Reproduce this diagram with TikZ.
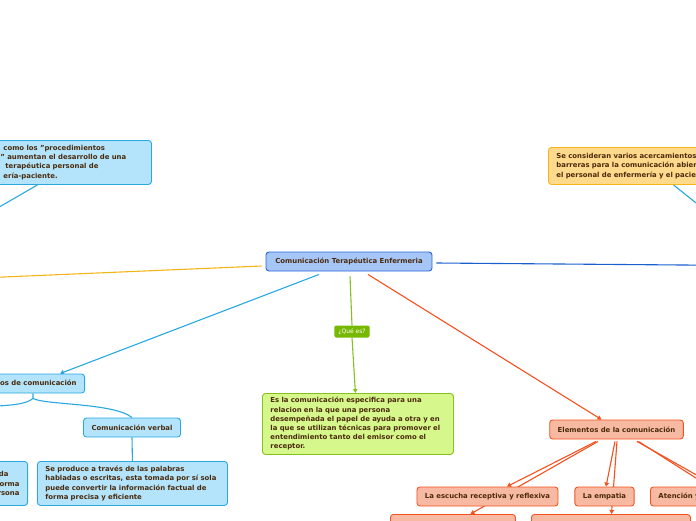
\documentclass[tikz,border=0pt]{standalone}
\usepackage{fontspec}
\setmainfont{DejaVu Sans}
\usetikzlibrary{arrows.meta}
\pgfdeclarelayer{bg}
\pgfsetlayers{bg,main}
\definecolor{txt}{HTML}{4A2A0C}
\definecolor{cyanF}{HTML}{B3E4FB}
\definecolor{cyanD}{HTML}{29A8E0}
\definecolor{blueF}{HTML}{A6C6F7}
\definecolor{blueD}{HTML}{2B63D6}
\definecolor{yelF}{HTML}{FFD98C}
\definecolor{yelD}{HTML}{F5B51A}
\definecolor{grnF}{HTML}{D6F78C}
\definecolor{grnD}{HTML}{84C01E}
\definecolor{orgF}{HTML}{F8B9A2}
\definecolor{orgD}{HTML}{F4511E}
\definecolor{qF}{HTML}{77B800}
\definecolor{lnBlue}{HTML}{1A5FD0}
\begin{document}
\begin{tikzpicture}[x=1pt,y=-1pt,
  font=\fontsize{6.9}{9.2}\selectfont\bfseries,
  box/.style={draw, rounded corners=3pt, line width=0.9pt, text=txt, inner xsep=8pt, inner ysep=3pt, minimum height=19pt},
  cyanbox/.style={box, fill=cyanF, draw=cyanD},
  bluebox/.style={box, fill=blueF, draw=blueD},
  yelbox/.style={box, fill=yelF, draw=yelD},
  grnbox/.style={box, fill=grnF, draw=grnD},
  orgbox/.style={box, fill=orgF, draw=orgD},
  qlabel/.style={fill=qF, text=white, rounded corners=1.5pt, inner xsep=4pt, inner ysep=2pt, font=\fontsize{6}{6}\selectfont, minimum height=12pt},
  conn/.style={line width=1.1pt},
  tip/.style={-{Triangle[length=4pt,width=4.5pt]}}
]
\useasboundingbox (0,0) rectangle (696,520);
\clip (0,0) rectangle (696,520);

% central
\node[bluebox, minimum width=166pt] (c) at (349,261.5) {Comunicación Terapéutica Enfermeria};

% top-left box
\node[cyanbox, anchor=north west, text width=150pt, align=left, minimum height=44pt] (tl) at (-15,140)
  {\hspace*{10pt}como los "procedimientos\\\hspace*{7pt}” aumentan el desarrollo de una\\\hspace*{12pt}terapéutica personal de\\\hspace*{10pt}ería-paciente.};

% top-right box
\node[yelbox, anchor=north west, text width=184pt, align=left, minimum height=37pt] (yb) at (548,147)
  {Se consideran varios acercamientos a las\\barreras para la comunicación abierta entre\\el personal de enfermería y el paciente};

% tipos
\node[cyanbox, anchor=east] (t) at (85,383.5) {Tipos de comunicación};
\node[cyanbox] (v) at (132,427.5) {Comunicación verbal};
\node[cyanbox, anchor=north west, text width=174pt, align=left, minimum height=44pt] (sp) at (37,461)
  {Se produce a través de las palabras\\habladas o escritas, esta tomada por sí sola\\puede convertir la información factual de\\forma precisa y eficiente};
\node[cyanbox, anchor=north east, text width=134pt, align=right, minimum height=44pt] (nv) at (28,461)
  {da\rule{11pt}{0pt}\\orma\\rsona};

% que es
\node[qlabel] (q) at (352,331.5) {¿Qué es?};
\node[grnbox, anchor=north west, text width=175pt, align=left, minimum height=61pt] (g) at (262,393)
  {Es la comunicación especifica para una\\relacion en la que una persona\\desempeñada el papel de ayuda a otra y en\\la que se utilizan técnicas para promover el\\entendimiento tanto del emisor como el\\receptor.};

% elementos
\node[orgbox] (e) at (616.5,429.5) {Elementos de la comunicación};
\node[orgbox] (es) at (487.5,496.5) {La escucha receptiva y reflexiva};
\node[orgbox] (em) at (604.5,496.5) {La empatia};
\node[orgbox, anchor=west] (at) at (650,496.5) {Atención y respeto};
\node[orgbox, anchor=north west, minimum width=125pt, minimum height=20pt] (lb1) at (390,514) {};
\node[orgbox, anchor=north west, minimum width=159pt, minimum height=20pt] (lb2) at (531,514) {};
\node[orgbox, anchor=north west, minimum width=100pt, minimum height=20pt] (lb3) at (712,514) {};

\coordinate (yl) at (-20,278);
\coordinate (br) at (720,265.3);
\coordinate (tlx) at (-30,224);
\coordinate (trx) at (720,222);
\coordinate (tleft) at (-15,407);

\begin{pgfonlayer}{bg}
\draw[conn, yelD] ([xshift=-4pt,yshift=-4.5pt]c.west) -- (yl);
\draw[conn, lnBlue] ([xshift=4pt,yshift=-1.5pt]c.east) -- (br);
\draw[conn, cyanD, tip] ([xshift=-30pt,yshift=-3pt]c.south) -- ([xshift=-25pt]t.north east);
\draw[conn, grnD] ([xshift=1pt,yshift=-5pt]c.south) -- (q.north);
\draw[conn, grnD, tip] (q.south) -- ([xshift=-2.5pt]g.north);
\draw[conn, orgD, tip] ([xshift=19pt,yshift=-3pt]c.south) -- ([xshift=-15pt]e.north);
\draw[conn, cyanD] ([xshift=-31pt]tl.south) -- (tlx);
\draw[conn, cyanD] ([xshift=25pt]yb.south) -- (trx);
% tipos branches
\draw[conn, cyanD] ([xshift=-52pt]t.south east) -- ++(0,5) coordinate (tb)
  .. controls (45,405) and (115,403) .. (v.north);
\draw[conn, cyanD] (tb) .. controls (25,405) and (10,405) .. (tleft);
\draw[conn, cyanD] (v.south) -- (sp.north);
% elementos children
\draw[conn, orgD, tip] ([xshift=-20.5pt,yshift=-2pt]e.south) -- ([xshift=19.5pt]es.north);
\draw[conn, orgD, tip] ([xshift=-18.5pt,yshift=-2pt]e.south) -- ([xshift=17.5pt]lb1.north);
\draw[conn, orgD, tip] ([xshift=-1.5pt,yshift=-2pt]e.south) -- ([xshift=1.5pt]em.north);
\draw[conn, orgD, tip] ([xshift=0.5pt,yshift=-2pt]e.south) -- ([xshift=0.5pt]lb2.north);
\draw[conn, orgD, tip] ([xshift=20.5pt,yshift=-2pt]e.south) -- ([xshift=67pt]at.north west);
\draw[conn, orgD, tip] ([xshift=22pt,yshift=-2pt]e.south) -- ([xshift=-10pt]lb3.north);
\end{pgfonlayer}
\end{tikzpicture}
\end{document}
